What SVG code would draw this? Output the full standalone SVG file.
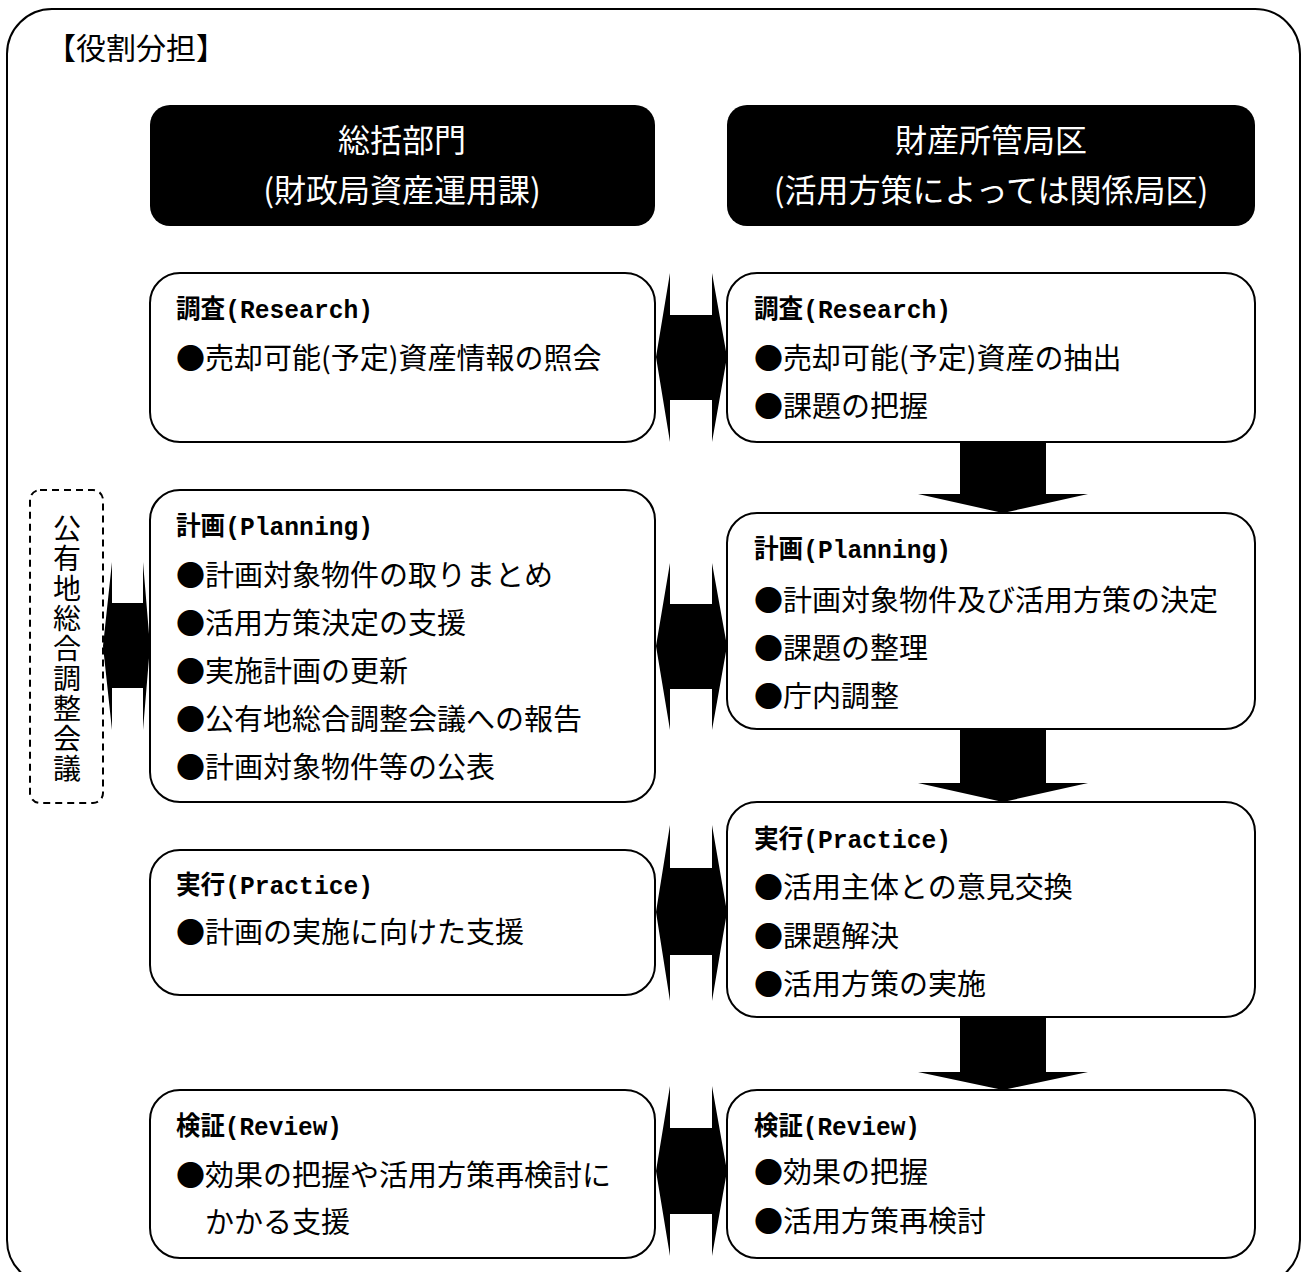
<svg xmlns="http://www.w3.org/2000/svg" width="1305" height="1272" viewBox="0 0 1305 1272">
<style>
.frame{fill:none;stroke:#000;stroke-width:2}
.box{fill:#fff;stroke:#000;stroke-width:2}
.hdr{fill:#000}
.ht{font-family:"Noto Sans CJK JP",sans-serif;font-size:32px;fill:#fff;text-anchor:middle}
.t{font-family:"Noto Sans CJK JP",sans-serif;font-size:26px;font-weight:bold;fill:#000}
.m{font-family:"Liberation Mono",monospace;font-weight:bold}
.b{font-family:"Noto Sans CJK JP",sans-serif;font-size:29px;fill:#000}
.arr{fill:#000;stroke:none}
.dash{fill:none;stroke:#000;stroke-width:2;stroke-dasharray:7,5}
</style>
<rect x="0" y="0" width="1305" height="1272" fill="#fff"/>
<rect class="frame" x="7" y="9" width="1293" height="1276" rx="45" ry="45"/>
<text x="46" y="59" font-family="Noto Sans CJK JP,sans-serif" font-size="30" fill="#000">【役割分担】</text>

<g id="header-left">
<rect class="hdr" x="150" y="105" width="505" height="121" rx="20" ry="20"/>
<text class="ht" x="402" y="152">総括部門</text>
<text class="ht" x="402" y="202">(財政局資産運用課)</text>
</g>
<g id="header-right">
<rect class="hdr" x="727" y="105" width="528" height="121" rx="20" ry="20"/>
<text class="ht" x="991" y="152">財産所管局区</text>
<text class="ht" x="991" y="202">(活用方策によっては関係局区)</text>
</g>

<g id="council">
<rect class="dash" x="30" y="490" width="73" height="313" rx="10" ry="10"/>
<text x="67" y="514" writing-mode="vertical-rl" font-family="Noto Sans CJK JP,sans-serif" font-size="28" letter-spacing="2" fill="#000">公有地総合調整会議</text>
</g>

<g id="research-left">
<rect class="box" x="150" y="273" width="505" height="169" rx="30" ry="30"/>
<text class="t" x="176" y="318" textLength="197" lengthAdjust="spacingAndGlyphs">調査<tspan class="m">(Research)</tspan></text>
<text class="b" x="176" y="369">●売却可能(予定)資産情報の照会</text>
</g>
<g id="research-right">
<rect class="box" x="727" y="273" width="528" height="169" rx="30" ry="30"/>
<text class="t" x="754" y="318" textLength="197" lengthAdjust="spacingAndGlyphs">調査<tspan class="m">(Research)</tspan></text>
<text class="b" x="754" y="369">●売却可能(予定)資産の抽出</text>
<text class="b" x="754" y="417">●課題の把握</text>
</g>

<g id="planning-left">
<rect class="box" x="150" y="490" width="505" height="312" rx="30" ry="30"/>
<text class="t" x="176" y="535" textLength="197" lengthAdjust="spacingAndGlyphs">計画<tspan class="m">(Planning)</tspan></text>
<text class="b" x="176" y="586">●計画対象物件の取りまとめ</text>
<text class="b" x="176" y="634">●活用方策決定の支援</text>
<text class="b" x="176" y="682">●実施計画の更新</text>
<text class="b" x="176" y="730">●公有地総合調整会議への報告</text>
<text class="b" x="176" y="778">●計画対象物件等の公表</text>
</g>
<g id="planning-right">
<rect class="box" x="727" y="513" width="528" height="216" rx="30" ry="30"/>
<text class="t" x="754" y="558" textLength="197" lengthAdjust="spacingAndGlyphs">計画<tspan class="m">(Planning)</tspan></text>
<text class="b" x="754" y="611">●計画対象物件及び活用方策の決定</text>
<text class="b" x="754" y="659">●課題の整理</text>
<text class="b" x="754" y="707">●庁内調整</text>
</g>

<g id="practice-left">
<rect class="box" x="150" y="850" width="505" height="145" rx="30" ry="30"/>
<text class="t" x="176" y="894" textLength="197" lengthAdjust="spacingAndGlyphs">実行<tspan class="m">(Practice)</tspan></text>
<text class="b" x="176" y="943">●計画の実施に向けた支援</text>
</g>
<g id="practice-right">
<rect class="box" x="727" y="802" width="528" height="215" rx="30" ry="30"/>
<text class="t" x="754" y="848" textLength="197" lengthAdjust="spacingAndGlyphs">実行<tspan class="m">(Practice)</tspan></text>
<text class="b" x="754" y="898">●活用主体との意見交換</text>
<text class="b" x="754" y="947">●課題解決</text>
<text class="b" x="754" y="995">●活用方策の実施</text>
</g>

<g id="review-left">
<rect class="box" x="150" y="1090" width="505" height="168" rx="30" ry="30"/>
<text class="t" x="176" y="1135" textLength="166" lengthAdjust="spacingAndGlyphs">検証<tspan class="m">(Review)</tspan></text>
<text class="b" x="176" y="1186">●効果の把握や活用方策再検討に</text>
<text class="b" x="205" y="1233">かかる支援</text>
</g>
<g id="review-right">
<rect class="box" x="727" y="1090" width="528" height="168" rx="30" ry="30"/>
<text class="t" x="754" y="1135" textLength="166" lengthAdjust="spacingAndGlyphs">検証<tspan class="m">(Review)</tspan></text>
<text class="b" x="754" y="1183">●効果の把握</text>
<text class="b" x="754" y="1232">●活用方策再検討</text>
</g>

<g id="connectors">
<polygon class="arr" points="103,646 112,562 112,603 143,603 143,562 150,646 143,730 143,688 112,688 112,730"/>
<polygon class="arr" points="656,357 670,273 670,315 712,315 712,273 727,357 712,442 712,400 670,400 670,442"/>
<polygon class="arr" points="656,646 670,563 670,604 712,604 712,563 727,646 712,730 712,689 670,689 670,730"/>
<polygon class="arr" points="656,912 670,825 670,868 712,868 712,825 727,912 712,1001 712,955 670,955 670,1001"/>
<polygon class="arr" points="656,1171 670,1086 670,1128 712,1128 712,1086 727,1171 712,1256 712,1214 670,1214 670,1256"/>
<polygon class="arr" points="960,442 1046,442 1046,494 1088,494 1003,513 918,494 960,494"/>
<polygon class="arr" points="960,729 1046,729 1046,783 1088,783 1003,802 918,783 960,783"/>
<polygon class="arr" points="960,1017 1046,1017 1046,1072 1088,1072 1003,1090 918,1072 960,1072"/>
</g>
</svg>
